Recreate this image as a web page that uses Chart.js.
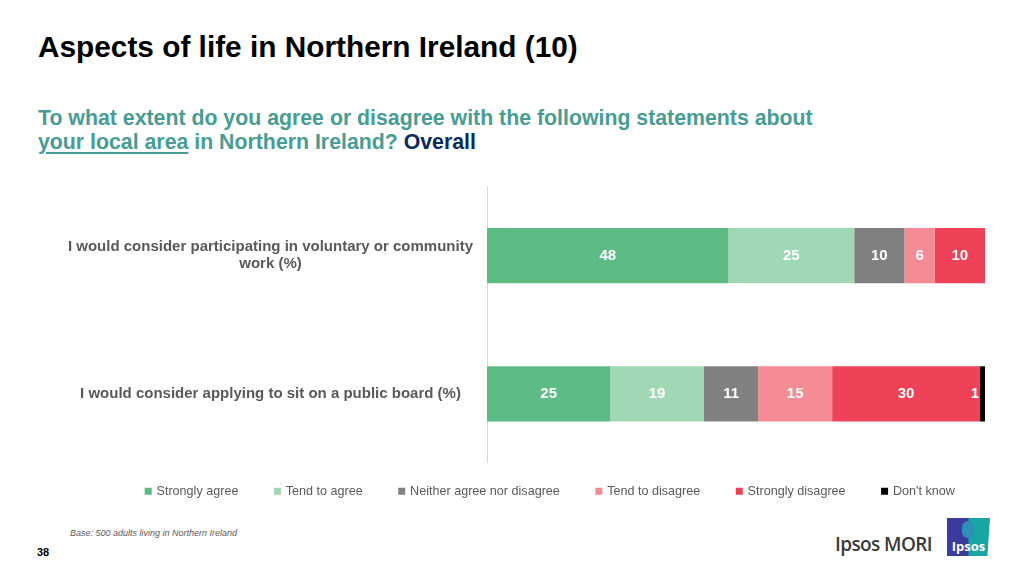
<!DOCTYPE html>
<html>
<head>
<meta charset="utf-8">
<script src="https://cdn.jsdelivr.net/npm/chart.js@4.4.1/dist/chart.umd.min.js"></script>
<style>
  html, body { margin: 0; padding: 0; width: 1024px; height: 576px; overflow: hidden; background: #fff; font-family: "Liberation Sans", Arial, Helvetica, sans-serif; }
  #title { position: absolute; left: 38px; top: 32px; font-size: 29.8px; line-height: 30px; font-weight: bold; color: #000; white-space: nowrap; }
  #subtitle { position: absolute; left: 38px; top: 106px; font-size: 21.3px; line-height: 24px; font-weight: bold; color: #479C93; white-space: nowrap; }
  #subtitle u { text-decoration-thickness: 2px; text-underline-offset: 3px; }
  #subtitle .ov { color: #0B2A5E; }
  #chartWrap { position: absolute; left: 60px; top: 170px; }
  #base { position: absolute; left: 70px; top: 528px; font-size: 9px; font-style: italic; color: #595959; white-space: nowrap; }
  #page { position: absolute; left: 37px; top: 546px; font-size: 11px; font-weight: bold; color: #000; }
  #mori { position: absolute; left: 835px; top: 531px; font-family: "Open Sans", "Noto Sans", sans-serif; font-size: 19px; font-weight: 600; color: #3a3a3a; white-space: nowrap; letter-spacing: -0.6px; }
  #logo { position: absolute; left: 947px; top: 518px; width: 43px; height: 38px; background: linear-gradient(90deg, #3B3A9D 0%, #3B3A9D 48%, #17A6A2 52%, #17A6A2 100%); clip-path: polygon(0 0, 100% 0, 94% 100%, 0 100%); overflow: hidden; }
  #logo .head { position: absolute; left: 15px; top: 3px; width: 12px; height: 17px; border-radius: 6px 6px 4px 6px; background: #2F8FB8; }
  #logo .txt { position: absolute; left: 0; width: 43px; top: 20px; text-align: center; color: #fff; font-family: "Open Sans", sans-serif; font-weight: 700; font-size: 13px; line-height: 16px; }
</style>
</head>
<body>
<div id="title">Aspects of life in Northern Ireland (10)</div>
<div id="subtitle">To what extent do you agree or disagree with the following statements about<br><u>your local area</u> in Northern Ireland? <span class="ov">Overall</span></div>
<div id="chartWrap"><canvas id="c" width="981" height="353"></canvas></div>
<div id="base">Base: 500 adults living in Northern Ireland</div>
<div id="page">38</div>
<div id="mori">Ipsos MORI</div>
<div id="logo"><div class="head"></div><div class="txt">Ipsos</div></div>

<script>
// ---- data ----
const categories = [
  ["I would consider participating in voluntary or community", "work (%)"],
  "I would consider applying to sit on a public board (%)"
];
const seriesNames = ["Strongly agree", "Tend to agree", "Neither agree nor disagree", "Tend to disagree", "Strongly disagree", "Don't know"];
const stronglyAgree    = [48, 25];
const tendToAgree      = [25, 19];
const neither          = [10, 11];
const tendToDisagree   = [6, 15];
const stronglyDisagree = [10, 30];
const dontKnow         = [0, 1];
const seriesColors = ["#5DBB84", "#A0D7B5", "#808080", "#F58B94", "#EF4157", "#000000"];

const seriesValues = [stronglyAgree, tendToAgree, neither, tendToDisagree, stronglyDisagree, dontKnow];
// each row is drawn as a 100% bar (row totals are 99 / 101 due to rounding)
const rowTotals = categories.map((_, i) => seriesValues.reduce((s, arr) => s + arr[i], 0));

const datasets = seriesValues.map((vals, k) => ({
  label: seriesNames[k],
  data: vals.map((v, i) => v / rowTotals[i] * 100),
  raw: vals,
  backgroundColor: seriesColors[k],
  borderWidth: 0,
  categoryPercentage: 0.8,
  barPercentage: 0.5
}));

const labelPlugin = {
  id: 'segLabels',
  afterDatasetsDraw(chart) {
    const ctx = chart.ctx;
    ctx.save();
    ctx.font = 'bold 15px "Liberation Sans", Arial, sans-serif';
    ctx.fillStyle = '#ffffff';
    ctx.textBaseline = 'middle';
    chart.data.datasets.forEach((ds, di) => {
      const meta = chart.getDatasetMeta(di);
      meta.data.forEach((el, i) => {
        const v = ds.raw[i];
        if (!v) return;
        const txt = String(v);
        const w = ctx.measureText(txt).width;
        const left = Math.min(el.x, el.base), right = Math.max(el.x, el.base);
        if (right - left < w + 2) {
          ctx.textAlign = 'right';
          ctx.fillText(txt, left - 1, el.y);
        } else {
          ctx.textAlign = 'center';
          ctx.fillText(txt, (left + right) / 2, el.y);
        }
      });
    });
    ctx.restore();
  }
};

const legendShift = {
  id: 'legendShift',
  afterLayout(chart) {
    const lg = chart.legend;
    if (lg) { lg.top -= 15; lg.bottom -= 15; lg.left += 28; lg.right += 28; }
  }
};

new Chart(document.getElementById('c'), {
  type: 'bar',
  data: { labels: categories, datasets },
  options: {
    indexAxis: 'y',
    responsive: false,
    animation: false,
    devicePixelRatio: 1,
    layout: { padding: { top: 16.5, right: 56, bottom: 0.5, left: 0 } },
    scales: {
      x: { stacked: true, min: 0, max: 100, display: false },
      y: {
        stacked: true,
        grid: { display: false, drawTicks: false },
        border: { display: true, color: '#D9D9D9', width: 1 },
        ticks: {
          crossAlign: 'center',
          padding: 14,
          color: '#595959',
          font: { family: '"Liberation Sans", Arial, sans-serif', size: 15, weight: 'bold', lineHeight: 1.15 }
        },
        afterFit(scale) { scale.width = 427; scale.paddingTop = 0; scale.paddingBottom = 0; }
      }
    },
    plugins: {
      legend: {
        position: 'bottom',
        labels: {
          usePointStyle: true, pointStyle: 'rect',
          boxWidth: 4, boxHeight: 7, padding: 37,
          color: '#595959',
          font: { family: '"Liberation Sans", Arial, sans-serif', size: 12.6 }
        }
      },
      tooltip: { enabled: false }
    }
  },
  plugins: [labelPlugin, legendShift]
});
</script>
</body>
</html>
